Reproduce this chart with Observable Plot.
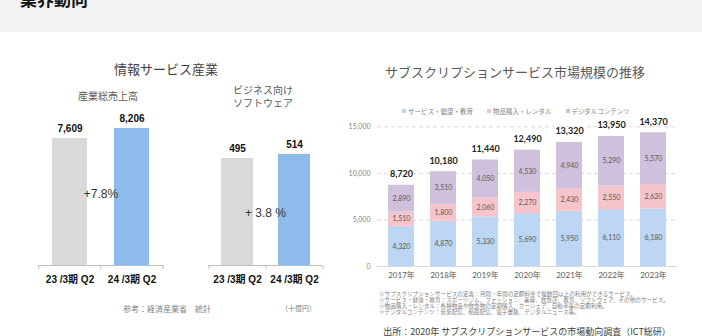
<!DOCTYPE html>
<html><head><meta charset="utf-8">
<script src="https://cdn.jsdelivr.net/npm/d3@7"></script>
<script src="https://cdn.jsdelivr.net/npm/@observablehq/plot@0.6"></script>
<style>
body{margin:0;background:#fff;}
#root{position:relative;width:702px;height:336px;overflow:hidden;font-family:"Noto Sans CJK JP",sans-serif;background:#fff;}
.abs{position:absolute;white-space:nowrap;}
#header{position:absolute;left:0;top:0;width:702px;height:32px;background:#f2f2f2;}
</style></head>
<body><div id="root"><div id="header"></div></div>
<script>
// ---- data ----
const periods = ["23 /3期 Q2", "24 /3期 Q2"];
const salesTotal = [7609, 8206];
const salesSoftware = [495, 514];
const growthTotal = "+7.8%";
const growthSoftware = "+ 3.8 %";
const leftColors = ["#d9d9d9", "#8dbcec"];

const years = ["2017年","2018年","2019年","2020年","2021年","2022年","2023年"];
const seriesNames = ["サービス・健康・教育","物品購入・レンタル","デジタルコンテンツ"];
const service = [4320,4870,5330,5690,5950,6110,6180];
const goods   = [1510,1800,2060,2270,2430,2550,2620];
const digital = [2890,3510,4050,4530,4940,5290,5570];
const totals  = [8720,10180,11440,12490,13320,13950,14370];
const yTicks = [0,5000,10000,15000];
const seriesColors = ["#bcd6f3","#f6c5cc","#cfc0de"];

const footnotes = [
  "※サブスクリプションサービスの定義：月間・年間の定額料金で複数回以上の利用ができるサービス。",
  "※サービス・健康・教育：スポーツジム、ファッション、美容、飲食店、教育、ソフトウェア、その他のサービス。",
  "※物品購入・レンタル：各種物品や飲食物の定期購入、カーシェア、自動車等の定額利用。",
  "※デジタルコンテンツ：音楽配信、動画配信、電子書籍、デジタルニュース等。"
];

const JP = "'Noto Sans CJK JP',sans-serif";
const ARIAL = "'Liberation Sans','Noto Sans CJK JP',sans-serif";
const LATO = "Lato,'Noto Sans CJK JP',sans-serif";
const fmt = d3.format(",");
const root = document.getElementById("root");

function label(text, x, y, size, o = {}) {
  const d = document.createElement("div");
  d.className = "abs";
  d.textContent = text;
  d.style.fontSize = size + "px";
  d.style.lineHeight = size + "px";
  d.style.left = x + "px";
  d.style.top = (y - size / 2) + "px";
  d.style.color = o.color || "#404040";
  d.style.fontWeight = o.weight || "normal";
  d.style.fontFamily = o.family || JP;
  if (o.anchor === "middle") d.style.transform = "translateX(-50%)";
  root.appendChild(d);
  return d;
}
function place(svg, left, top) {
  svg.style.position = "absolute";
  svg.style.left = left + "px";
  svg.style.top = top + "px";
  root.appendChild(svg);
}

// header
label("業界動向", 20, -1.5, 17, {color:"#111", weight:"bold"});

// left section texts
label("情報サービス産業", 166, 68, 13, {anchor:"middle", color:"#404040"});
label("産業総売上高", 108, 96, 10, {anchor:"middle", color:"#595959"});
label("ビジネス向け", 233, 90, 10, {color:"#595959"});
label("ソフトウェア", 233, 103, 10, {color:"#595959"});
label("参考：経済産業省　統計", 167, 309, 8, {anchor:"middle", color:"#7f7f7f"});
label("（十億円）", 281, 308, 7, {color:"#7f7f7f"});

function leftChart(values, growth, domainMax, o) {
  const rows = periods.map((p, i) => ({p, v: values[i]}));
  const step = (o.width - o.marginLeft - o.marginRight) / periods.length;
  return Plot.plot({
    width: o.width, height: 200,
    marginLeft: o.marginLeft, marginRight: o.marginRight,
    marginTop: o.marginTop, marginBottom: 25,
    x: {domain: periods, paddingInner: 0.44, paddingOuter: 0.22, label: null},
    y: {domain: [0, domainMax], axis: null},
    color: {domain: periods, range: leftColors},
    style: {fontFamily: ARIAL, background: "transparent", overflow: "visible"},
    marks: [
      Plot.barY(rows, {x: "p", y: "v", fill: "p"}),
      Plot.ruleY([0], {stroke: "#bfbfbf"}),
      Plot.ruleX(periods, {x: d => d, dx: -step / 2, y1: 0, y2: 0, insetBottom: -4, stroke: "#bfbfbf"}),
      Plot.ruleX(periods.slice(-1), {x: d => d, dx: step / 2, y1: 0, y2: 0, insetBottom: -4, stroke: "#bfbfbf"}),
      Plot.text(rows, {x: "p", y: "v", text: d => fmt(d.v), dy: -10, fontSize: 10, fontWeight: "bold", fill: "#111"}),
      Plot.text([growth], {frameAnchor: "middle", text: d => d, dy: o.growthDy, fontSize: 12, fill: "#333"}),
      Plot.axisX({tickSize: 0, tickPadding: 10, fontSize: 10, fontWeight: "bold", fill: "#111", label: null})
    ]
  });
}
place(leftChart(salesTotal, growthTotal, 10000, {width: 175, marginLeft: 38, marginRight: 12, marginTop: 8, growthDy: 12.5}), 0, 90);
place(leftChart(salesSoftware, growthSoftware, 800, {width: 150, marginLeft: 18, marginRight: 18, marginTop: 2, growthDy: 34.5}), 190, 90);

// right section
label("サブスクリプションサービス市場規模の推移", 515, 71, 13, {anchor:"middle", color:"#595959"});

// legend
const legend = document.createElement("div");
legend.className = "abs";
legend.style.left = "402px";
legend.style.top = "107px";
legend.style.fontSize = "6.5px";
legend.style.lineHeight = "8px";
legend.style.color = "#7f7f7f";
legend.style.fontFamily = JP;
legend.style.display = "flex";
legend.style.gap = "14px";
seriesNames.forEach((n, i) => {
  const item = document.createElement("span");
  item.style.display = "flex";
  item.style.alignItems = "center";
  const sw = document.createElement("span");
  sw.style.display = "inline-block";
  sw.style.width = "4px"; sw.style.height = "4px";
  sw.style.marginRight = "2px";
  sw.style.background = seriesColors[i];
  item.appendChild(sw);
  item.appendChild(document.createTextNode(n));
  legend.appendChild(item);
});
root.appendChild(legend);

const rows3 = [];
years.forEach((yr, i) => {
  [service, goods, digital].forEach((arr, j) => rows3.push({year: yr, series: seriesNames[j], value: arr[i]}));
});
const totalRows = years.map((yr, i) => ({year: yr, total: totals[i]}));

const chart3 = Plot.plot({
  width: 362, height: 185,
  marginLeft: 37, marginRight: 24.5, marginTop: 17, marginBottom: 19,
  x: {domain: years, paddingInner: 0.37, paddingOuter: 0.185, label: null},
  y: {domain: [0, 16000], label: null},
  color: {domain: seriesNames, range: seriesColors},
  style: {fontFamily: LATO, background: "transparent", overflow: "visible"},
  marks: [
    Plot.ruleY(yTicks.filter(t => t > 0), {stroke: "#d9d9d9", strokeDasharray: "4,3"}),
    Plot.barY(rows3, {x: "year", y: "value", fill: "series"}),
    Plot.ruleY([0], {stroke: "#d9d9d9"}),
    Plot.text(rows3, Plot.stackY({x: "year", y: "value", z: "series", text: d => fmt(d.value), fontSize: 7, fill: "#595959"})),
    Plot.text(totalRows, {x: "year", y: "total", text: d => fmt(d.total), dy: -11, fontSize: 9, fontWeight: "bold", fill: "#222"}),
    Plot.axisY({ticks: yTicks, tickSize: 0, tickPadding: 7, tickFormat: d => fmt(d), fontSize: 7, fill: "#7f7f7f", label: null}),
    Plot.axisX({tickSize: 0, tickPadding: 6, fontSize: 8, fill: "#595959", label: null})
  ]
});
place(chart3, 340, 100);

// footnotes (rendered at 2x then scaled down to avoid minimum font size clamping)
footnotes.forEach((t, i) => {
  const d = label(t, 379, 294 + i * 6, 11.2, {color: "#7f7f7f"});
  d.style.top = (291 + i * 6) + "px";
  d.style.transformOrigin = "0 0";
  d.style.transform = "scale(0.5)";
});
label("出所：2020年 サブスクリプションサービスの市場動向調査（ICT総研）", 527, 331, 9, {anchor:"middle", color:"#404040"});
</script>
</body></html>
